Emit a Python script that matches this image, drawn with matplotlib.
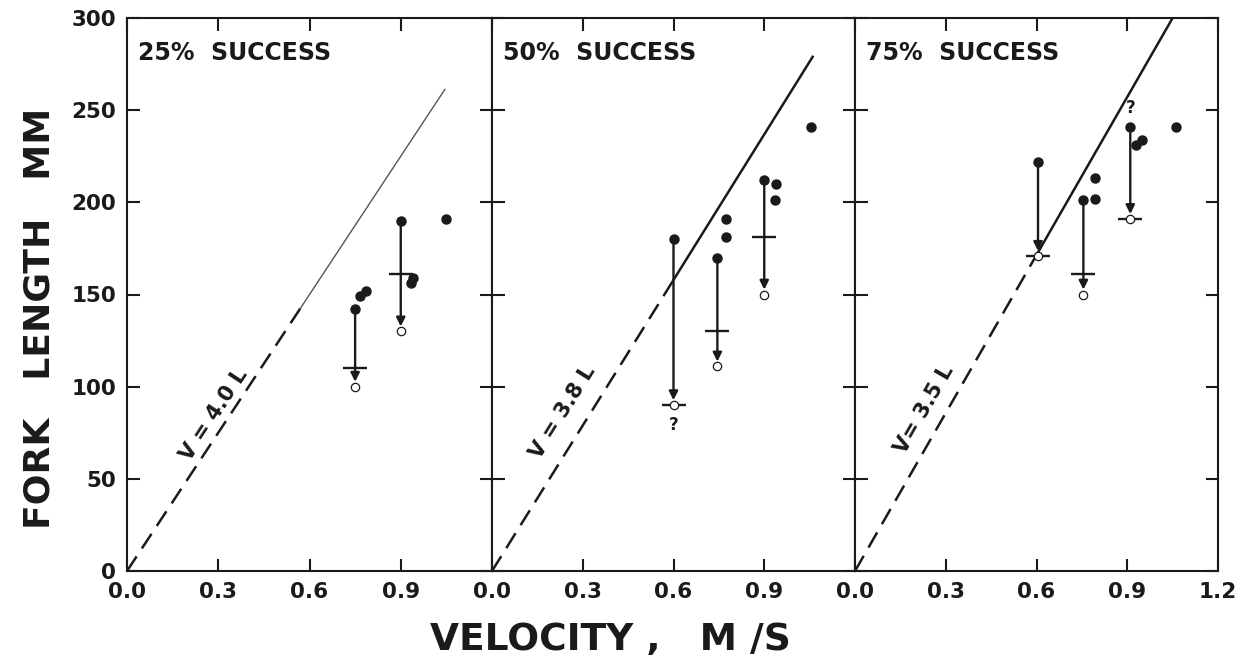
import matplotlib
matplotlib.use("Agg")
import matplotlib.pyplot as plt
import numpy as np

plt.rcParams['font.family'] = ['DejaVu Sans']
plt.rcParams['font.weight'] = 'bold'

# ---- data ----
panel_titles = ["25%  SUCCESS", "50%  SUCCESS", "75%  SUCCESS"]
line_labels = ["V = 4.0 L", "V = 3.8 L", "V= 3.5 L"]
body_lengths = [4.0, 3.8, 3.5]          # V = k * L  ->  L(mm) = 1000 V / k
dash_end_v = [0.57, 0.60, 0.60]          # dashed part of line up to this velocity
line_end_v = [1.045, 1.06, 1.05]

# arrows (filled start -> open end), with mean bar
arrow_x = [[0.75, 0.90], [0.60, 0.745, 0.90], [0.605, 0.755, 0.91]]
arrow_top = [[142, 190], [180, 170, 212], [222, 201, 241]]
arrow_bottom = [[100, 130], [90, 111, 150], [171, 150, 191]]
arrow_mean = [[110, 161], [90, 130, 181], [171, 161, 191]]

# isolated filled points
dot_x = [[0.765, 0.785, 0.935, 0.94, 1.05],
         [0.775, 0.775, 0.935, 0.94, 1.055],
         [0.795, 0.795, 0.93, 0.95, 1.06]]
dot_y = [[149, 152, 156, 159, 191],
         [181, 191, 201, 210, 241],
         [202, 213, 231, 234, 241]]

# question marks
q_panel = [1, 2]
q_x = [0.60, 0.91]
q_y = [79, 251]

x_ticks = [0.0, 0.3, 0.6, 0.9, 1.2]
y_ticks = [0, 50, 100, 150, 200, 250, 300]

label_pos_x = [0.286, 0.234, 0.23]
label_pos_y = [85, 86, 87.5]

# ---- figure ----
W, H = 1241, 664
fig = plt.figure(figsize=(W / 100, H / 100), dpi=100)
ink = '#1a1a1a'

lefts = [127, 492, 855]
rights = [492, 855, 1218]
top_px, bot_px = 18, 571

for i in range(3):
    ax = fig.add_axes([lefts[i] / W, 1 - bot_px / H,
                       (rights[i] - lefts[i]) / W, (bot_px - top_px) / H])
    ax.set_xlim(0, 1.2)
    ax.set_ylim(0, 300)
    for s in ax.spines.values():
        s.set_linewidth(1.5)
        s.set_color(ink)

    # ticks
    if i == 2:
        ax.set_xticks(x_ticks)
        ax.set_xticklabels([f"{t:.1f}" for t in x_ticks])
    else:
        ax.set_xticks(x_ticks[:-1])
        ax.set_xticklabels([f"{t:.1f}" for t in x_ticks[:-1]])
    ax.set_yticks(y_ticks)
    if i == 0:
        ax.set_yticklabels([str(t) for t in y_ticks])
    else:
        ax.set_yticklabels([])
    ax.tick_params(axis='both', direction='in', length=9, width=1.5,
                   color=ink, top=True, right=True, labelsize=15.5,
                   labelcolor=ink)
    ax.tick_params(axis='x', pad=8)
    ax.tick_params(axis='y', pad=8)
    for lab in ax.get_xticklabels() + ax.get_yticklabels():
        lab.set_fontweight('bold')

    k = body_lengths[i]
    slope = 1000.0 / k
    # dashed part
    vd = np.array([0.0, dash_end_v[i]])
    ax.plot(vd, slope * vd, color=ink, lw=1.8, ls=(0, (7, 3.8)),
            solid_capstyle='butt', dash_capstyle='butt')
    # solid part
    vs = np.array([dash_end_v[i], min(line_end_v[i], 300 / slope)])
    if i == 0:
        ax.plot(vs, slope * vs, color='#555555', lw=1.0)
    else:
        ax.plot(vs, slope * vs, color=ink, lw=1.8)

    # line label
    ang = np.degrees(np.arctan(slope * (bot_px - top_px) / 300 /
                               ((rights[i] - lefts[i]) / 1.2)))
    ax.text(label_pos_x[i], label_pos_y[i], line_labels[i], rotation=ang,
            rotation_mode='anchor', ha='center', va='center',
            fontsize=15, fontweight='bold', color=ink)

    # title
    ax.text(0.035, 281, panel_titles[i], fontsize=17, fontweight='bold',
            color=ink, ha='left', va='center')

    # arrows
    for xa, yt, yb, ym in zip(arrow_x[i], arrow_top[i], arrow_bottom[i],
                              arrow_mean[i]):
        ax.annotate('', xy=(xa, yb), xytext=(xa, yt),
                    arrowprops=dict(arrowstyle='-|>', color=ink, lw=1.7,
                                    mutation_scale=13, shrinkA=0, shrinkB=3.5))
        ax.plot([xa], [ym], marker='_', ms=17, mew=1.7, color=ink)
        ax.plot([xa], [yt], 'o', ms=6.5, color=ink, zorder=5)
        ax.plot([xa], [yb], 'o', ms=6, mfc='white', mec=ink, mew=0.9,
                zorder=6)

    # single dots
    ax.plot(dot_x[i], dot_y[i], 'o', ms=6.5, color=ink, ls='none', zorder=5)

    # question marks
    for qp, qx, qy in zip(q_panel, q_x, q_y):
        if qp == i:
            ax.text(qx, qy, '?', fontsize=12, fontweight='bold', color=ink,
                    ha='center', va='center')

fig.text(40 / W, 1 - 318 / H, "FORK   LENGTH   MM", rotation=90, ha='center',
         va='center', fontsize=26, fontweight='bold', color=ink)
fig.text(610 / W, 1 - 640 / H, "VELOCITY ,   M /S", ha='center', va='center',
         fontsize=27, fontweight='bold', color=ink)

fig.savefig("out.png", dpi=100, facecolor='white')
